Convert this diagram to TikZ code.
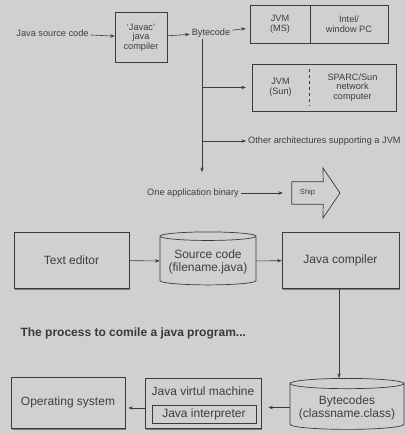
\documentclass[tikz,border=0pt]{standalone}
\usepackage{fontspec}
\setmainfont{Liberation Sans}
\usetikzlibrary{arrows.meta,positioning,shapes.geometric,shadows}
\definecolor{jbg}{RGB}{208,208,210}
\definecolor{jline}{RGB}{58,58,60}
\definecolor{jtext}{RGB}{62,62,64}
\tikzset{
  jSmall/.style={font=\fontsize{9.2}{9.6}\selectfont, text=jtext,
                 align=center, inner sep=2pt},
  jThin/.style={draw=jline, line width=0.6pt, align=center},
  jBox/.style={draw=jline, line width=0.7pt, fill=jbg, align=center,
               text=jtext, font=\fontsize{12}{13}\selectfont,
               drop shadow={shadow xshift=0.6pt, shadow yshift=-1.6pt,
                            fill=jline, opacity=0.55}},
  jCyl/.style={cylinder, shape border rotate=90, aspect=0.1, draw=jline,
               line width=0.7pt, align=center, text=jtext,
               font=\fontsize{12}{13}\selectfont},
  jArrow/.style={-{Stealth[length=4.5pt,width=3.4pt]}, line width=0.6pt,
                 draw=jline}
}

\begin{document}
\begin{tikzpicture}[x=1pt,y=-1pt]
  \useasboundingbox (0,0) rectangle (406,434);
  \fill[jbg] (0,0) rectangle (406,434);

  % top: one binary for every platform
  \node[jSmall] (srccode) at (52.5,33) {Java source code};
  \node[jThin, jSmall, minimum width=52pt, minimum height=50pt] (javac)
        at (141,37.5) {‘Javac’\\java\\compiler};
  \node[jSmall] (bytecode) at (211,33) {Bytecode};
  \node[jThin, jSmall, minimum width=60pt, minimum height=38pt] (jvmms)
        at (280,24) {JVM\\(MS)};
  \node[jThin, jSmall, minimum width=78pt, minimum height=38pt] (intel)
        at (349,24) {Intel/\\window PC};
  \node[jSmall, minimum width=57pt, minimum height=47pt] (jvmsun)
        at (280.5,87.5) {JVM\\(Sun)};
  \node[jSmall, minimum width=87pt, minimum height=47pt] (sparc)
        at (352.5,87.5) {SPARC/Sun\\network\\computer};
  \node[jSmall, anchor=west] (other) at (246,141)
        {Other architectures supporting a JVM};
  \node[jSmall] (binary) at (193,193) {One application binary};
  \node[jSmall, font=\fontsize{7.5}{8}\selectfont, minimum width=31pt,
        minimum height=22pt] (ship) at (307.5,193) {Ship};
  \coordinate (trunk) at (202,39);
  \coordinate (trunkend) at (202,172);

  \draw[jline, line width=0.6pt] (jvmsun.north west) rectangle (sparc.south east);
  \draw[jline, line width=0.6pt, dashed]
       ([yshift=-5pt]jvmsun.north east) -- ([yshift=5pt]jvmsun.south east);
  \draw[jline, line width=0.7pt] (ship.south west) -- (ship.north west)
       -- (ship.north east) -- (323,168) -- (340,193) -- (323,218)
       -- (ship.south east) -- cycle;

  \draw[jArrow] (srccode) -- (javac);
  \draw[jArrow] (javac) -- (bytecode);
  \draw[jArrow, shorten >=4pt] (bytecode) -- (jvmms);
  \draw[jArrow] (trunk) -- (trunkend);
  \draw[jArrow, shorten >=6pt] (trunk |- jvmsun.west) -- (jvmsun.west);
  \draw[jArrow] (trunk |- other.west) -- (other.west);
  \draw[jArrow, shorten >=9pt] (binary) -- (ship);

  % middle: edit and compile
  \node[jBox, minimum width=115pt, minimum height=56pt] (editor)
        at (71.5,260) {Text editor};
  \node[jCyl, minimum width=96pt, minimum height=53pt] (source)
        at (208,261.5) {Source code\\(filename.java)};
  \node[jBox, minimum width=117pt, minimum height=56pt] (compiler)
        at (340.5,260) {Java compiler};

  \draw[jArrow] (editor) -- (source);
  \draw[jArrow] (source) -- (compiler);

  \node[anchor=west, text=jline, font=\fontsize{12}{13}\selectfont\bfseries]
        (caption) at (17,333) {The process to comile a java program...};

  % bottom: run
  \node[jBox, minimum width=114pt, minimum height=51pt] (os)
        at (68,402.5) {Operating system};
  \node[jBox, minimum width=116pt, minimum height=50pt] (jvm) at (203,403) {};
  \node[text=jtext, font=\fontsize{12}{13}\selectfont] (jvmname)
        at (203,391) {Java virtul machine};
  \node[jThin, text=jtext, font=\fontsize{12}{13}\selectfont,
        minimum width=104pt, minimum height=18pt, inner sep=1pt] (interp)
        at (204,414) {Java interpreter};
  \node[jCyl, minimum width=114pt, minimum height=51pt] (bytecodes)
        at (347,407.5) {Bytecodes\\(classname.class)};

  \draw[jArrow] ([xshift=-1.5pt]compiler.south)
       -- ([xshift=-1.5pt]compiler.south |- bytecodes.north);
  \draw[jArrow, shorten >=7pt] (bytecodes.west) -- (bytecodes.west -| jvm.east);
  \draw[jArrow, shorten >=3pt] ([yshift=-5pt]jvm.west)
       -- ([yshift=-5pt]jvm.west -| os.east);
\end{tikzpicture}
\end{document}
